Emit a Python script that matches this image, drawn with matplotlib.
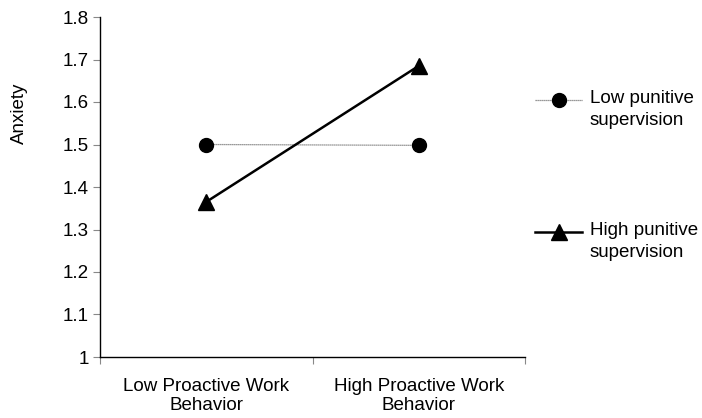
import matplotlib
matplotlib.use("Agg")
import matplotlib.pyplot as plt
from matplotlib.lines import Line2D

plt.rcParams['font.family'] = ['Liberation Sans', 'DejaVu Sans']

categories = ["Low Proactive Work\nBehavior", "High Proactive Work\nBehavior"]
low_punitive = [1.5, 1.498]
high_punitive = [1.365, 1.685]
series_labels = ["Low punitive\nsupervision", "High punitive\nsupervision"]
y_ticks = [1.0, 1.1, 1.2, 1.3, 1.4, 1.5, 1.6, 1.7, 1.8]
y_tick_labels = ["1", "1.1", "1.2", "1.3", "1.4", "1.5", "1.6", "1.7", "1.8"]

FS = 13.5
W, H = 702, 418
fig = plt.figure(figsize=(W / 100, H / 100), dpi=100)
ax = fig.add_axes([100 / W, (H - 357) / H, 425 / W, 340 / H])

low_style = dict(color="#777777", lw=0.9, ls=(0, (1, 0.6)),
                 marker="o", ms=10, mfc="black", mec="black")
high_style = dict(color="black", lw=1.8,
                  marker="^", ms=11, mfc="black", mec="black")

x = [0.5, 1.5]
ax.plot(x, low_punitive, zorder=3, **low_style)
ax.plot(x, high_punitive, zorder=3, **high_style)

ax.set_xlim(0, 2)
ax.set_ylim(1.0, 1.8)
ax.set_yticks(y_ticks)
ax.set_yticklabels(y_tick_labels, fontsize=FS)
ax.set_xticks([0, 1, 2])
ax.set_xticklabels([])
ax.set_xticks(x, minor=True)
ax.set_xticklabels(categories, minor=True, fontsize=FS, linespacing=1.2)
ax.tick_params(axis="x", which="minor", length=0, pad=15)
ax.tick_params(axis="x", which="major", length=5, direction="out", color="#888888")
ax.tick_params(axis="y", length=5, direction="out", color="#888888", pad=3)
ax.set_ylabel("Anxiety", fontsize=FS)
ax.yaxis.set_label_coords((28 - 100) / 425, (357 - 113) / 340)

for s in ["top", "right"]:
    ax.spines[s].set_visible(False)
for s in ["left", "bottom"]:
    ax.spines[s].set_linewidth(1.0)

# legend entries, marker aligned with the first text line
for style, label, ypix in [(low_style, series_labels[0], 100),
                           (high_style, series_labels[1], 232)]:
    yf = (H - ypix) / H
    fig.add_artist(Line2D([535 / W, 582 / W], [yf, yf], markevery=[],
                          **{k: v for k, v in style.items()}))
    fig.add_artist(Line2D([558.5 / W], [yf], ls="none",
                          marker=style["marker"], ms=style["ms"],
                          mfc="black", mec="black"))
    fig.text(590 / W, (H - ypix + 10) / H, label, fontsize=FS,
             va="top", ha="left", linespacing=1.35)

fig.savefig("out.png", dpi=100)
